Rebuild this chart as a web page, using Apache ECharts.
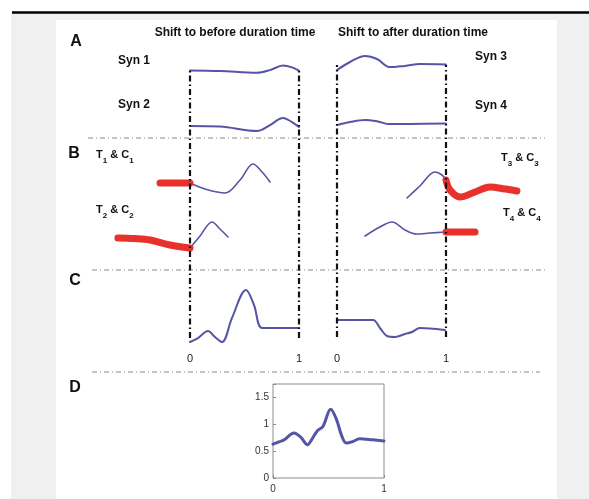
<!DOCTYPE html>
<html><head><meta charset="utf-8">
<script src="https://cdn.jsdelivr.net/npm/echarts@6/dist/echarts.min.js"></script>
<style>html,body{margin:0;padding:0;background:#fff}#c{width:589px;height:499px}</style>
</head><body><div id="c"></div>
<script>
// ---- data (time t normalised to the duration 0..1, amplitude v in arbitrary units) ----
const syn1 = [[0,0.32],[0.275,0.30],[0.615,0.24],[0.734,0.33],[0.853,0.48],[0.936,0.42],[1,0.31]];
const syn2 = [[0,0.30],[0.275,0.28],[0.615,0.13],[0.734,0.33],[0.853,0.57],[0.936,0.43],[1,0.27]];
const syn3 = [[0,0.33],[0.119,0.60],[0.257,0.80],[0.367,0.70],[0.486,0.43],[0.624,0.47],[0.761,0.53],[1,0.52]];
const syn4 = [[0,0.33],[0.119,0.43],[0.257,0.50],[0.376,0.45],[0.468,0.37],[0.67,0.37],[1,0.38]];
const t1 = [[0,0.44],[0.138,0.32],[0.321,0.24],[0.459,0.50],[0.578,0.82],[0.661,0.66],[0.734,0.46]];
const c1 = [[-0.275,0.44],[-0.14,0.44],[0,0.44]];
const t2 = [[0,0.175],[0.092,0.475],[0.202,0.825],[0.275,0.65],[0.349,0.45]];
const c2 = [[-0.661,0.425],[-0.505,0.41],[-0.367,0.375],[-0.183,0.25],[0,0.175]];
const t3 = [[0.642,0.14],[0.761,0.38],[0.899,0.66],[0.963,0.60],[1,0.50]];
const c3 = [[1,0.50],[1.037,0.30],[1.128,0.16],[1.266,0.26],[1.404,0.36],[1.541,0.32],[1.651,0.28]];
const t4 = [[0.257,0.475],[0.394,0.70],[0.505,0.825],[0.624,0.625],[0.734,0.525],[0.853,0.55],[1,0.575]];
const c4 = [[1,0.575],[1.13,0.575],[1.266,0.575]];
const sumBefore = [[0,0.114],[0.073,0.171],[0.165,0.271],[0.229,0.186],[0.294,0.114],[0.385,0.457],[0.514,0.857],[0.587,0.643],[0.661,0.314],[0.826,0.314],[1,0.314]];
const sumAfter = [[0,0.429],[0.33,0.429],[0.394,0.314],[0.459,0.2],[0.532,0.186],[0.624,0.229],[0.688,0.257],[0.761,0.314],[0.853,0.307],[0.991,0.286]];
const dCurve = [[0,0.63],[0.05,0.67],[0.1,0.71],[0.19,0.84],[0.25,0.76],[0.31,0.62],[0.35,0.72],[0.4,0.88],[0.45,0.96],[0.52,1.28],[0.57,1.1],[0.62,0.78],[0.66,0.65],[0.72,0.68],[0.78,0.73],[0.9,0.71],[1,0.69]];
const dYTicks = [0, 0.5, 1, 1.5];
const dXTicks = [0, 1];
const cTicks = [0, 1];
const boundaryTimes = [0, 1];

// ---- layout ----
const BLUE = '#5554a6', RED = '#e8312b';
const colL = {left: 113.7, width: 185.3, min: -0.7, max: 1};
const colR = {left: 337, width: 185.3, min: 0, max: 1.7};
const rows = [
  {col: colL, top: 50, h: 30}, {col: colL, top: 105, h: 30},
  {col: colR, top: 50, h: 30}, {col: colR, top: 105, h: 30},
  {col: colL, top: 155, h: 50}, {col: colL, top: 215, h: 40},
  {col: colR, top: 155, h: 50}, {col: colR, top: 215, h: 40},
  {col: colL, top: 280, h: 70}, {col: colR, top: 280, h: 70},
  {col: colL, top: 70, h: 268}, {col: colR, top: 65, h: 272}
];
const grids = [], xAxes = [], yAxes = [];
rows.forEach((r, i) => {
  grids.push({left: r.col.left, top: r.top, width: r.col.width, height: r.h, outerBoundsMode: 'none', containLabel: false});
  const isC = (i === 8 || i === 9);
  xAxes.push({type: 'value', gridIndex: i, min: r.col.min, max: r.col.max, show: isC,
    axisLine: {show: false}, axisTick: {show: false}, splitLine: {show: false},
    axisLabel: {show: isC, customValues: cTicks, fontSize: 11, color: '#222', margin: 3, fontFamily: 'Liberation Sans, Arial, sans-serif'}});
  yAxes.push({type: 'value', gridIndex: i, min: 0, max: 1, show: false, splitLine: {show: false}});
});
// panel D
grids.push({left: 273, top: 384, width: 111, height: 94, show: true, borderColor: '#8c8c8c', borderWidth: 1, backgroundColor: '#fff', outerBoundsMode: 'none', containLabel: false});
xAxes.push({type: 'value', gridIndex: 12, min: 0, max: 1, interval: 1, axisLine: {show: false}, splitLine: {show: false},
  axisTick: {inside: true, length: 3, lineStyle: {color: '#8c8c8c'}},
  axisLabel: {fontSize: 10, color: '#333', margin: 6, customValues: dXTicks, fontFamily: 'Liberation Sans, Arial, sans-serif'}});
yAxes.push({type: 'value', gridIndex: 12, min: 0, max: 1.75, interval: 0.5, axisLine: {show: false}, splitLine: {show: false},
  axisTick: {inside: true, length: 3, lineStyle: {color: '#8c8c8c'}},
  axisLabel: {fontSize: 10, color: '#333', margin: 4, customValues: dYTicks, fontFamily: 'Liberation Sans, Arial, sans-serif'}});

function ln(data, gi, color, width, cap) {
  return {type: 'line', xAxisIndex: gi, yAxisIndex: gi, data: data, smooth: 0.35, symbol: 'none',
    lineStyle: {color: color, width: width, cap: cap || 'round', join: 'round'}, silent: true, z: color === RED ? 4 : 3};
}
const frameLine = {symbol: ['none', 'none'], silent: true, label: {show: false},
  lineStyle: {color: '#111', width: 2.2, type: [6, 3, 1.5, 3]}, data: boundaryTimes.map(t => ({xAxis: t}))};
const series = [
  ln(syn1, 0, BLUE, 2), ln(syn2, 1, BLUE, 2), ln(syn3, 2, BLUE, 2), ln(syn4, 3, BLUE, 2),
  ln(t1, 4, BLUE, 1.6), ln(c1, 4, RED, 7), ln(t2, 5, BLUE, 1.6), ln(c2, 5, RED, 7),
  ln(t3, 6, BLUE, 1.6), ln(c3, 6, RED, 7), ln(t4, 7, BLUE, 1.6), ln(c4, 7, RED, 7),
  ln(sumBefore, 8, BLUE, 2), ln(sumAfter, 9, BLUE, 2),
  {type: 'line', xAxisIndex: 10, yAxisIndex: 10, data: [], markLine: frameLine, z: 2},
  {type: 'line', xAxisIndex: 11, yAxisIndex: 11, data: [], markLine: frameLine, z: 2},
  ln(dCurve, 12, BLUE, 3)
];

const F = 'Liberation Sans, Arial, Helvetica, sans-serif';
function txt(text, x, y, size, align, weight) {
  return {type: 'text', z: 10, silent: true, style: {text: text, x: x, y: y, font: (weight || 'bold') + ' ' + size + 'px ' + F, fill: '#111', align: align || 'center', verticalAlign: 'middle'}};
}
function sub(base, n, base2, x, y, align) {
  return {type: 'text', z: 10, silent: true, style: {
    text: '{a|' + base + '}{s|' + n + '}{a| & ' + base2 + '}{s|' + n + '}', x: x, y: y, align: align || 'left', verticalAlign: 'middle',
    rich: {a: {fontFamily: F, fontWeight: 'bold', fontSize: 11, lineHeight: 15, verticalAlign: 'top', fill: '#111'},
           s: {fontFamily: F, fontWeight: 'bold', fontSize: 8, lineHeight: 15, verticalAlign: 'bottom', fill: '#111'}}}};
}
function sep(y, x1, x2) {
  return {type: 'line', silent: true, z: 1, shape: {x1: x1, y1: y, x2: x2, y2: y}, style: {stroke: '#8a8a8a', lineWidth: 1.2, lineDash: [5, 3, 1, 3]}};
}
const graphic = [
  {type: 'rect', silent: true, z: -10, shape: {x: 11, y: 13, width: 578, height: 486}, style: {fill: '#f0f0f0'}},
  {type: 'rect', silent: true, z: -9, shape: {x: 56, y: 20, width: 501, height: 479}, style: {fill: '#fff'}},
  {type: 'line', silent: true, z: -8, shape: {x1: 12, y1: 12.5, x2: 589, y2: 12.5}, style: {stroke: '#000', lineWidth: 2.5}},
  sep(138, 88, 545), sep(270, 92, 545), sep(372, 92, 540),
  txt('A', 76, 42, 16), txt('B', 74, 154, 16), txt('C', 75, 281, 16), txt('D', 75, 388, 16),
  txt('Shift to before duration time', 235, 33, 12), txt('Shift to after duration time', 413, 33, 12),
  txt('Syn 1', 134, 61, 12), txt('Syn 2', 134, 105, 12), txt('Syn 3', 491, 57, 12), txt('Syn 4', 491, 106, 12),
  sub('T', '1', 'C', 96, 157), sub('T', '2', 'C', 96, 212),
  sub('T', '3', 'C', 501, 160), sub('T', '4', 'C', 503, 215)
];

const chart = echarts.init(document.getElementById('c'), null, {renderer: 'canvas'});
chart.setOption({animation: false, backgroundColor: '#fff', grid: grids, xAxis: xAxes, yAxis: yAxes, series: series, graphic: graphic});
</script></body></html>
